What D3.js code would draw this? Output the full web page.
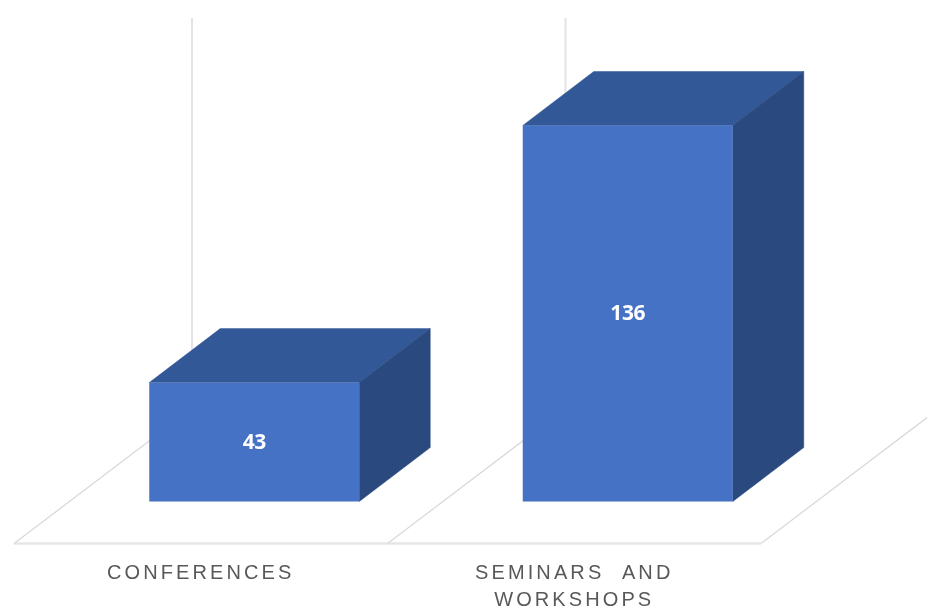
<!DOCTYPE html>
<html>
<head>
<meta charset="utf-8">
<script src="https://cdn.jsdelivr.net/npm/d3@7"></script>
<style>
html,body{margin:0;padding:0;background:#fff;overflow:hidden}
svg{display:block}
</style>
</head>
<body>
<svg id="c" width="927" height="609"></svg>
<script>
const categories = ["CONFERENCES", "SEMINARS AND WORKSHOPS"];
const values = [43, 136];

const root = d3.select("#c");
root.append("defs").append("filter").attr("id", "soft")
  .attr("x", 0).attr("y", 0).attr("width", 927).attr("height", 609)
  .attr("filterUnits", "userSpaceOnUse")
  .append("feGaussianBlur").attr("stdDeviation", 0.45);
const svg = root.append("g").attr("filter", "url(#soft)");

const x = d3.scaleBand().domain(categories).range([14, 761]).padding(0);
const y = d3.scaleLinear().domain([0, 136]).range([501.5, 125.5]);
const barW = 210;
const toFront = {dx: 53.5, dy: -42};   // floor edge to bar front
const depth = {dx: 71, dy: -54};       // bar depth
const toBack = {dx: 178, dy: -135};    // floor edge to back wall
const floorY = 543.5, wallTop = 18;

// floor and walls
svg.append("line").attr("x1", x.range()[0]).attr("x2", x.range()[1])
  .attr("y1", floorY).attr("y2", floorY).attr("stroke", "#e6e6e6").attr("stroke-width", 2.4);
const grid = svg.append("g").attr("fill", "none").attr("stroke", "#d9d9d9");
const edges = [...categories.map(c => x(c)), x.range()[1]];
edges.forEach(e => {
  grid.append("line").attr("x1", e).attr("y1", floorY)
    .attr("x2", e + toBack.dx).attr("y2", floorY + toBack.dy).attr("stroke-width", 1.3);
  grid.append("line").attr("x1", e + toBack.dx).attr("y1", floorY + toBack.dy)
    .attr("x2", e + toBack.dx).attr("y2", wallTop).attr("stroke", "#e3e3e3").attr("stroke-width", 2);
});

// bars
const poly = pts => pts.map(p => p.join(",")).join(" ");
const bars = svg.selectAll("g.bar").data(categories.map((c, i) => ({c, v: values[i]})))
  .join("g").attr("class", "bar");
const L = d => x(d.c) + x.bandwidth() / 2 + toFront.dx - barW / 2;
const R = d => L(d) + barW;
bars.append("polygon").attr("fill", "#335897").attr("stroke", "#335897").attr("stroke-width", 0.5)
  .attr("points", d => poly([
  [L(d), y(d.v)], [R(d), y(d.v)], [R(d) + depth.dx, y(d.v) + depth.dy], [L(d) + depth.dx, y(d.v) + depth.dy]]));
bars.append("polygon").attr("fill", "#29487E").attr("stroke", "#29487E").attr("stroke-width", 0.5)
  .attr("points", d => poly([
  [R(d), y(d.v)], [R(d) + depth.dx, y(d.v) + depth.dy], [R(d) + depth.dx, y(0) + depth.dy], [R(d), y(0)]]));
bars.append("rect").attr("fill", "#4472C4").attr("x", L).attr("y", d => y(d.v))
  .attr("width", barW).attr("height", d => y(0) - y(d.v));
bars.append("text").attr("x", d => (L(d) + R(d)) / 2).attr("y", d => (y(d.v) + y(0)) / 2 - 0.5)
  .attr("dy", "0.35em").attr("text-anchor", "middle").attr("fill", "#fff")
  .attr("font-family", "'Open Sans', sans-serif").attr("font-weight", 700).attr("font-size", 21)
  .attr("letter-spacing", -0.4).text(d => d.v);

// category labels
const lines = {"CONFERENCES": ["CONFERENCES"], "SEMINARS AND WORKSHOPS": ["SEMINARS AND", "WORKSHOPS"]};
const labels = svg.selectAll("text.cat").data(categories).join("text").attr("class", "cat")
  .attr("text-anchor", "middle").attr("fill", "#595959")
  .attr("font-family", "'Liberation Sans', sans-serif").attr("font-size", 20)
  .attr("letter-spacing", 3.1).attr("word-spacing", 10);
labels.each(function(c) {
  const t = d3.select(this);
  lines[c].forEach((l, i) => t.append("tspan").attr("x", x(c) + x.bandwidth() / 2)
    .attr("y", 578.5 + i * 27.5).text(l));
});
</script>
</body>
</html>
